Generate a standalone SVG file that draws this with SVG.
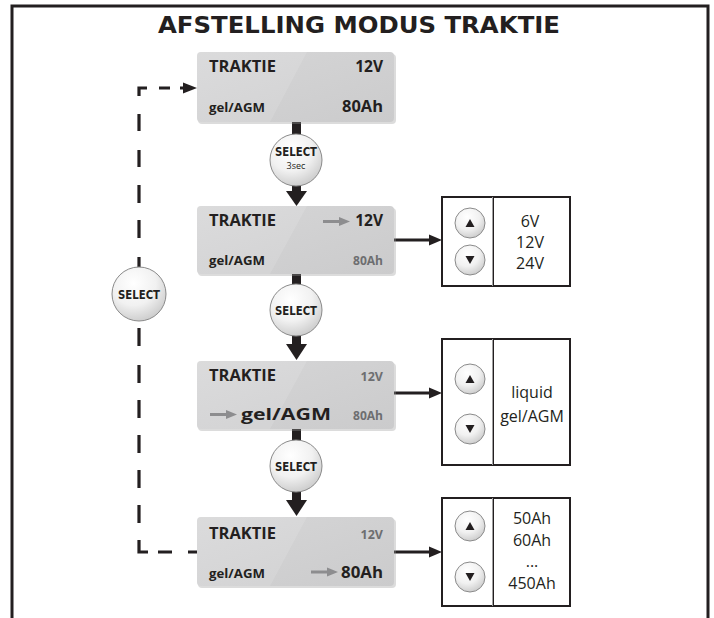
<svg xmlns="http://www.w3.org/2000/svg" width="714" height="618" viewBox="0 0 714 618">
<defs>
<radialGradient id="btn" cx="0.4" cy="0.3" r="0.75">
<stop offset="0" stop-color="#ffffff"/>
<stop offset="0.55" stop-color="#f1f1f1"/>
<stop offset="1" stop-color="#c9c9c9"/>
</radialGradient>
<linearGradient id="lcd" x1="0" y1="0" x2="1" y2="1">
<stop offset="0" stop-color="#d6d6d7"/>
<stop offset="1" stop-color="#cbcbcc"/>
</linearGradient>
</defs>
<style>
.frame{fill:none;stroke:#231f20;stroke-width:3}
.lcd{fill:url(#lcd)}
.shadow{fill:#9a9a9a;opacity:0.35}
.sheen{fill:#ffffff;opacity:0.12}
.t{font-family:"Open Sans","Liberation Sans",sans-serif;fill:#231f20}
.big{font-size:15.5px;font-weight:700}
.sm{font-size:12.5px;font-weight:700}
.grey{fill:#6d6e70}
.garrow{stroke:#8d8d8f;stroke-width:3;fill:none}
.gahead{fill:#8d8d8f}
.sel{fill:url(#btn);stroke:#8a8a8a;stroke-width:1}
.selt{font-family:"DejaVu Sans","Liberation Sans",sans-serif;font-weight:700;font-size:11.5px;fill:#231f20;text-anchor:middle}
.stem{fill:#231f20}
.conn{stroke:#231f20;stroke-width:3.2;fill:none}
.hd{fill:#231f20}
.panel{fill:#ffffff;stroke:#231f20;stroke-width:2}
.ub{fill:url(#btn);stroke:#8a8a8a;stroke-width:1}
.val{font-family:"Open Sans","Liberation Sans",sans-serif;font-size:16px;fill:#231f20;text-anchor:middle}
</style>

<!-- frame -->
<path class="frame" d="M12,618 V6 H708 V618"/>
<text x="359" y="33" text-anchor="middle" font-family="'DejaVu Sans','Liberation Sans',sans-serif" font-weight="700" font-size="23.5" fill="#231f20" textLength="402" lengthAdjust="spacingAndGlyphs">AFSTELLING MODUS TRAKTIE</text>

<!-- connectors -->
<g id="connectors">
<rect class="stem" x="292" y="122" width="9" height="13"/>
<rect class="stem" x="292" y="185" width="9" height="7"/>
<polygon class="hd" points="286,191 307,191 296.5,206"/>
<rect class="stem" x="292" y="274" width="9" height="11"/>
<rect class="stem" x="292" y="335" width="9" height="10"/>
<polygon class="hd" points="286,344 307,344 296.5,360"/>
<rect class="stem" x="292" y="429" width="9" height="12"/>
<rect class="stem" x="292" y="491" width="9" height="10"/>
<polygon class="hd" points="286,500 307,500 296.5,516"/>

<line class="conn" x1="394" y1="240" x2="432" y2="240"/>
<polygon class="hd" points="429,234.5 442,240 429,245.5"/>
<line class="conn" x1="394" y1="393" x2="432" y2="393"/>
<polygon class="hd" points="429,387.5 442,393 429,398.5"/>
<line class="conn" x1="394" y1="552" x2="432" y2="552"/>
<polygon class="hd" points="429,546.5 442,552 429,557.5"/>

<!-- dashed loop -->
<path class="conn" d="M197,552 H188 M172,552 H158 M148,552 H139 V540" />
<path class="conn" d="M139,523 V505 M139,488 V470 M139,453 V435 M139,418 V400 M139,383 V365 M139,346 V328"/>
<path class="conn" d="M139,268 V257 M139,238 V220 M139,203 V185 M139,167 V150 M139,131 V114 M139,96 V88 H147 M159,88 H170 M180,88 H186"/>
<polygon class="hd" points="183,82.5 197,88 183,93.5"/>
</g>

<!-- LCD 1 -->
<g id="lcd1">
<rect class="shadow" x="198" y="54" width="198" height="70" rx="4"/>
<rect class="lcd" x="197" y="52" width="197" height="70" rx="4"/>
<path class="sheen" d="M201,52 H307 L270,122 H201 A4,4 0 0 1 197,118 V56 A4,4 0 0 1 201,52 Z"/>
<text class="t big" x="209" y="72" textLength="67" lengthAdjust="spacingAndGlyphs">TRAKTIE</text>
<text class="t big" x="383" y="72" text-anchor="end">12V</text>
<text class="t sm" x="209" y="112" textLength="56" lengthAdjust="spacingAndGlyphs">gel/AGM</text>
<text class="t big" x="383" y="112" text-anchor="end" textLength="41" lengthAdjust="spacingAndGlyphs">80Ah</text>
</g>

<g id="select1">
<circle class="sel" cx="296" cy="160" r="26"/>
<text class="selt" x="296" y="156" textLength="42" lengthAdjust="spacingAndGlyphs">SELECT</text>
<text x="296" y="169" text-anchor="middle" font-family="'Open Sans','Liberation Sans',sans-serif" font-size="9" fill="#231f20">3sec</text>
</g>

<!-- LCD 2 -->
<g id="lcd2">
<rect class="shadow" x="198" y="208" width="198" height="68" rx="4"/>
<rect class="lcd" x="197" y="206" width="197" height="68" rx="4"/>
<path class="sheen" d="M201,206 H307 L270,274 H201 A4,4 0 0 1 197,270 V210 A4,4 0 0 1 201,206 Z"/>
<text class="t big" x="209" y="226" textLength="67" lengthAdjust="spacingAndGlyphs">TRAKTIE</text>
<line class="garrow" x1="323" y1="221.5" x2="341" y2="221.5"/>
<polygon class="gahead" points="339,217 350,221.5 339,226"/>
<text class="t big" x="383" y="226" text-anchor="end">12V</text>
<text class="t sm" x="209" y="265" textLength="56" lengthAdjust="spacingAndGlyphs">gel/AGM</text>
<text class="t sm grey" x="383" y="265" text-anchor="end" textLength="30" lengthAdjust="spacingAndGlyphs">80Ah</text>
</g>

<g id="select2">
<circle class="sel" cx="296" cy="310" r="26"/>
<text class="selt" x="296" y="315" textLength="42" lengthAdjust="spacingAndGlyphs">SELECT</text>
</g>

<!-- LCD 3 -->
<g id="lcd3">
<rect class="shadow" x="198" y="363" width="198" height="68" rx="4"/>
<rect class="lcd" x="197" y="361" width="197" height="68" rx="4"/>
<path class="sheen" d="M201,361 H307 L270,429 H201 A4,4 0 0 1 197,425 V365 A4,4 0 0 1 201,361 Z"/>
<text class="t big" x="209" y="381" textLength="67" lengthAdjust="spacingAndGlyphs">TRAKTIE</text>
<text class="t sm grey" x="383" y="381" text-anchor="end">12V</text>
<line class="garrow" x1="210" y1="414.5" x2="228" y2="414.5"/>
<polygon class="gahead" points="226,410 237,414.5 226,419"/>
<text class="t big" x="241" y="420" textLength="90" lengthAdjust="spacingAndGlyphs" font-size="17">gel/AGM</text>
<text class="t sm grey" x="383" y="420" text-anchor="end" textLength="30" lengthAdjust="spacingAndGlyphs">80Ah</text>
</g>

<g id="select3">
<circle class="sel" cx="296" cy="466" r="26"/>
<text class="selt" x="296" y="471" textLength="42" lengthAdjust="spacingAndGlyphs">SELECT</text>
</g>

<!-- LCD 4 -->
<g id="lcd4">
<rect class="shadow" x="198" y="519" width="198" height="69" rx="4"/>
<rect class="lcd" x="197" y="517" width="197" height="69" rx="4"/>
<path class="sheen" d="M201,517 H307 L270,586 H201 A4,4 0 0 1 197,582 V521 A4,4 0 0 1 201,517 Z"/>
<text class="t big" x="209" y="539" textLength="67" lengthAdjust="spacingAndGlyphs">TRAKTIE</text>
<text class="t sm grey" x="383" y="539" text-anchor="end">12V</text>
<text class="t sm" x="209" y="578" textLength="56" lengthAdjust="spacingAndGlyphs">gel/AGM</text>
<line class="garrow" x1="311" y1="572" x2="329" y2="572"/>
<polygon class="gahead" points="327,567.5 338,572 327,576.5"/>
<text class="t big" x="383" y="578" text-anchor="end" textLength="42" lengthAdjust="spacingAndGlyphs" font-size="17">80Ah</text>
</g>

<!-- SELECT on loop -->
<g id="select-loop">
<circle class="sel" cx="139" cy="294" r="27"/>
<text class="selt" x="139" y="299" textLength="42" lengthAdjust="spacingAndGlyphs">SELECT</text>
</g>

<!-- panel voltage -->
<g id="panel-volt">
<rect class="panel" x="442" y="197" width="128" height="89"/>
<line x1="492.5" y1="197" x2="492.5" y2="286" stroke="#a0a0a0" stroke-width="1"/>
<line x1="493.5" y1="197" x2="493.5" y2="286" stroke="#231f20" stroke-width="1"/>
<circle class="ub" cx="470" cy="223" r="15"/>
<polygon class="hd" points="465.5,227 474.5,227 470,219"/>
<circle class="ub" cx="470" cy="260" r="15"/>
<polygon class="hd" points="465.5,256 474.5,256 470,264"/>
<text class="val" x="530" y="227">6V</text>
<text class="val" x="530" y="248">12V</text>
<text class="val" x="530" y="269">24V</text>
</g>

<!-- panel type -->
<g id="panel-type">
<rect class="panel" x="442" y="339" width="128" height="126"/>
<line x1="492.5" y1="339" x2="492.5" y2="465" stroke="#a0a0a0" stroke-width="1"/>
<line x1="493.5" y1="339" x2="493.5" y2="465" stroke="#231f20" stroke-width="1"/>
<circle class="ub" cx="470" cy="379" r="15"/>
<polygon class="hd" points="465.5,383 474.5,383 470,375"/>
<circle class="ub" cx="470" cy="429" r="15"/>
<polygon class="hd" points="465.5,425 474.5,425 470,433"/>
<text class="val" x="532" y="398">liquid</text>
<text class="val" x="532" y="422">gel/AGM</text>
</g>

<!-- panel capacity -->
<g id="panel-cap">
<rect class="panel" x="442" y="498" width="128" height="108"/>
<line x1="492.5" y1="498" x2="492.5" y2="606" stroke="#a0a0a0" stroke-width="1"/>
<line x1="493.5" y1="498" x2="493.5" y2="606" stroke="#231f20" stroke-width="1"/>
<circle class="ub" cx="470" cy="526" r="15"/>
<polygon class="hd" points="465.5,530 474.5,530 470,522"/>
<circle class="ub" cx="470" cy="577" r="15"/>
<polygon class="hd" points="465.5,573 474.5,573 470,581"/>
<text class="val" x="532" y="524">50Ah</text>
<text class="val" x="532" y="546">60Ah</text>
<text class="val" x="532" y="567">...</text>
<text class="val" x="532" y="589">450Ah</text>
</g>
</svg>
